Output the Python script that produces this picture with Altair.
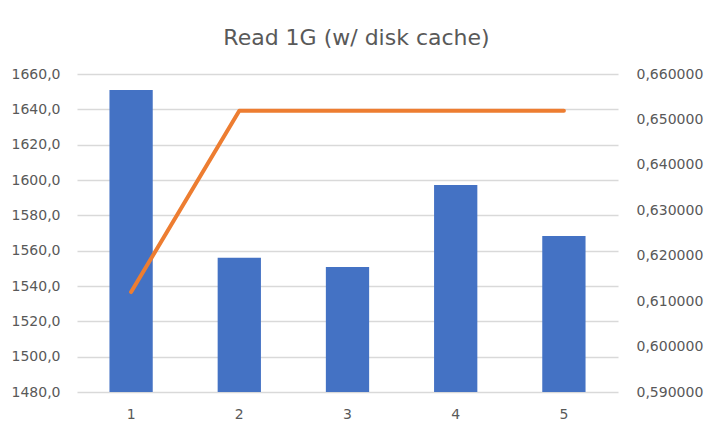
import altair as alt
import pandas as pd

runs = ["1", "2", "3", "4", "5"]
throughput = [1651.0, 1556.0, 1550.8, 1597.2, 1568.3]
ratio = [0.6120, 0.6519, 0.6519, 0.6519, 0.6519]

df = pd.DataFrame({"run": runs, "throughput": throughput, "ratio": ratio})

FONT = "DejaVu Sans"
GREY = "#595959"

x = alt.X("run:N", sort=runs, title=None,
          scale=alt.Scale(paddingInner=0.6, paddingOuter=0.3),
          axis=alt.Axis(labelAngle=0, domain=False, ticks=False, labelPadding=15,
                        labelFontSize=14, labelColor=GREY, labelFont=FONT, grid=False))

bars = alt.Chart(df).mark_bar(color="#4472C4", clip=True).encode(
    x=x,
    y=alt.Y("throughput:Q", title=None,
            scale=alt.Scale(domain=[1480, 1660], nice=False, zero=False),
            axis=alt.Axis(values=list(range(1480, 1661, 20)), domain=False, ticks=False,
                          labelExpr="replace(format(datum.value, '.1f'), '.', ',')",
                          labelFontSize=14, labelColor=GREY, labelFont=FONT, labelPadding=17,
                          gridColor="#d9d9d9", gridWidth=1.3)),
)

line = alt.Chart(df).mark_line(color="#ED7D31", strokeWidth=4, strokeCap="round", strokeJoin="round").encode(
    x=x,
    y=alt.Y("ratio:Q", title=None,
            scale=alt.Scale(domain=[0.59, 0.66], nice=False, zero=False),
            axis=alt.Axis(orient="right", values=[0.59, 0.60, 0.61, 0.62, 0.63, 0.64, 0.65, 0.66],
                          domain=False, ticks=False, grid=False,
                          labelExpr="replace(format(datum.value, '.6f'), '.', ',')",
                          labelFontSize=14, labelColor=GREY, labelFont=FONT, labelPadding=18)),
)

chart = alt.layer(bars, line).resolve_scale(y="independent").properties(
    width=541, height=318,
    autosize=alt.AutoSizeParams(type="none"),
    padding={"left": 69, "top": 66, "right": 88, "bottom": 37},
    title=alt.TitleParams("Read 1G (w/ disk cache)", fontSize=22, font=FONT, color=GREY,
                          fontWeight="normal", anchor="middle", dx=9, offset=17),
).configure_view(stroke=None)

chart.save("out.html", embed_options={"renderer": "svg", "actions": False})
